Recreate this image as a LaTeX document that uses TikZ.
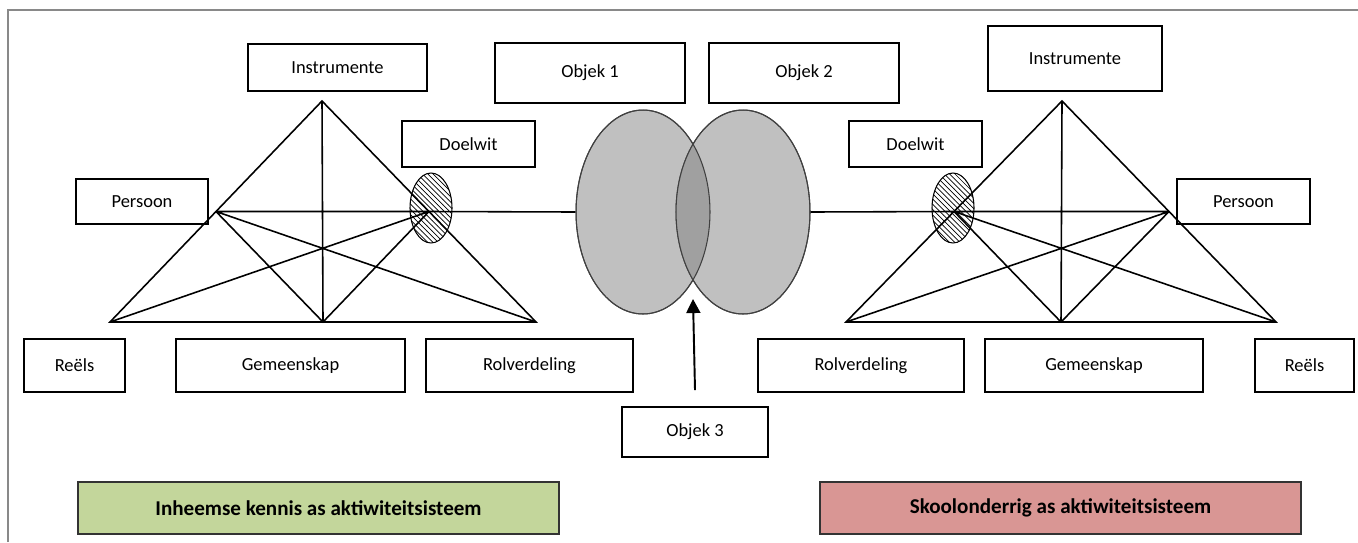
\documentclass[tikz,border=0pt]{standalone}
\usepackage{fontspec}
\setmainfont{Carlito}
\usepackage{tikz}
\usetikzlibrary{arrows.meta}
\usetikzlibrary{calc}
\usetikzlibrary{patterns}
\usetikzlibrary{shapes.geometric}

\definecolor{randgrys}{RGB}{137,137,137}
\definecolor{vennlig}{RGB}{192,192,192}
\definecolor{venndonker}{RGB}{160,160,160}
\definecolor{inheemsgroen}{RGB}{195,214,155}
\definecolor{skoolrooi}{RGB}{217,150,148}

\begin{document}
\begin{tikzpicture} [x = 0.02cm, y = -0.02cm,
    vak/.style = {draw, line width = 1.1pt, inner sep = 0,
        font = \fontsize{10.5}{12}\selectfont},
    stelsel/.style = {draw = black!80, line width = 1pt, inner sep = 0,
        font = \bfseries\fontsize{12}{14}\selectfont,
        minimum width = 9.62cm, minimum height = 1.04cm},
    lyn/.style = {line width = 0.9pt},
    doel/.style = {ellipse, draw, line width = 0.6pt, pattern = north west lines,
        minimum width = 0.84cm, minimum height = 1.4cm, inner sep = 0},
    venn/.style = {ellipse, draw = black!75, line width = 0.6pt, fill = vennlig,
        minimum width = 2.68cm, minimum height = 4.08cm, inner sep = 0}]
    \useasboundingbox (0, 0) rectangle (1358, 542);
    \draw[randgrys, line width = 1.1pt] (8, 542) -- (8, 10) -- (1358, 10);

    % linkerkant: inheemse kennis
    \node[vak, minimum width = 3.58cm, minimum height = 0.94cm] (instrL) at (337.5, 67.5) {Instrumente};
    \node[vak, minimum width = 2.64cm, minimum height = 0.90cm] (persL) at (142, 201.5) {Persoon};
    \node[vak, minimum width = 2.66cm, minimum height = 0.92cm] (doelL) at (468.5, 144) {Doelwit};
    \node[vak, minimum width = 2.02cm, minimum height = 1.06cm] (reelsL) at (74.5, 365.5) {Reëls};
    \node[vak, minimum width = 4.58cm, minimum height = 1.06cm] (gemL) at (290.5, 365.5) {Gemeenskap};
    \node[vak, minimum width = 4.14cm, minimum height = 1.06cm] (rolL) at (529.5, 365.5) {Rolverdeling};

    \coordinate (lA) at (322, 101);
    \coordinate (lBL) at (110, 322);
    \coordinate (lBR) at (536, 322);
    \coordinate (lP) at ($(lA)!0.5!(lBL)$);
    \coordinate (lD) at ($(lA)!0.5!(lBR)$);
    \coordinate (lG) at ($(lBL)!0.5!(lBR)$);
    \draw[lyn] (lA) -- (lBL) -- (lBR) -- cycle;
    \draw[lyn] (lA) -- (lG) (lP) -- (lD) (lP) -- (lG) -- (lD)
        (lP) -- (lBR) (lD) -- (lBL);

    % regterkant: skoolonderrig
    \node[vak, minimum width = 2.66cm, minimum height = 0.92cm] (doelR) at (915.5, 144) {Doelwit};
    \node[vak, minimum width = 3.48cm, minimum height = 1.30cm] (instrR) at (1075, 58.5) {Instrumente};
    \node[vak, minimum width = 2.66cm, minimum height = 0.90cm] (persR) at (1243.5, 201.5) {Persoon};
    \node[vak, minimum width = 4.12cm, minimum height = 1.06cm] (rolR) at (861, 365.5) {Rolverdeling};
    \node[vak, minimum width = 4.36cm, minimum height = 1.06cm] (gemR) at (1094, 365.5) {Gemeenskap};
    \node[vak, minimum width = 1.98cm, minimum height = 1.06cm] (reelsR) at (1304.5, 365.5) {Reëls};

    \coordinate (rA) at (1062, 101);
    \coordinate (rBL) at (846, 322);
    \coordinate (rBR) at (1276, 322);
    \coordinate (rD) at ($(rA)!0.5!(rBL)$);
    \coordinate (rP) at ($(rA)!0.5!(rBR)$);
    \coordinate (rG) at ($(rBL)!0.5!(rBR)$);
    \draw[lyn] (rA) -- (rBL) -- (rBR) -- cycle;
    \draw[lyn] (rA) -- (rG) (rD) -- (rP) (rD) -- (rG) -- (rP)
        (rD) -- (rBR) (rP) -- (rBL);

    % objekte in die middel
    \node[vak, minimum width = 3.80cm, minimum height = 1.20cm] (obj1) at (590, 73) {Objek 1};
    \node[vak, minimum width = 3.80cm, minimum height = 1.20cm] (obj2) at (804, 73) {Objek 2};
    \node[vak, minimum width = 2.92cm, minimum height = 1.00cm] (obj3) at (695, 432) {Objek 3};

    \node[venn] (vennL) at (643, 212) {};
    \node[venn] (vennR) at (743, 212) {};
    \begin{scope}
        \clip (vennL.center) ellipse [x radius = 1.34cm, y radius = 2.04cm];
        \fill[venndonker] (vennR.center) ellipse [x radius = 1.34cm, y radius = 2.04cm];
    \end{scope}
    \draw[black!75, line width = 0.6pt] (vennL.center) ellipse [x radius = 1.34cm, y radius = 2.04cm]
        (vennR.center) ellipse [x radius = 1.34cm, y radius = 2.04cm];

    \draw[lyn] (lD) -- (vennL.west);
    \draw[lyn] (vennR.east) -- (rD);

    \node[doel] (hatchL) at (431, 208) {};
    \node[doel] (hatchR) at (953, 208) {};

    \coordinate (pijlpunt) at (693, 299);
    \draw[line width = 1.1pt, -{Triangle[length = 8pt, width = 8pt]}]
        ([yshift = 0.32cm]obj3.north) -- (pijlpunt);

    % aktiwiteitstelsels
    \node[stelsel, fill = inheemsgroen] (inheems) at (318.5, 508) {Inheemse kennis as aktiwiteitsisteem};
    \node[stelsel, fill = skoolrooi] (skool) at (1060.5, 508) {Skoolonderrig as aktiwiteitsisteem};
\end{tikzpicture}
\end{document}
